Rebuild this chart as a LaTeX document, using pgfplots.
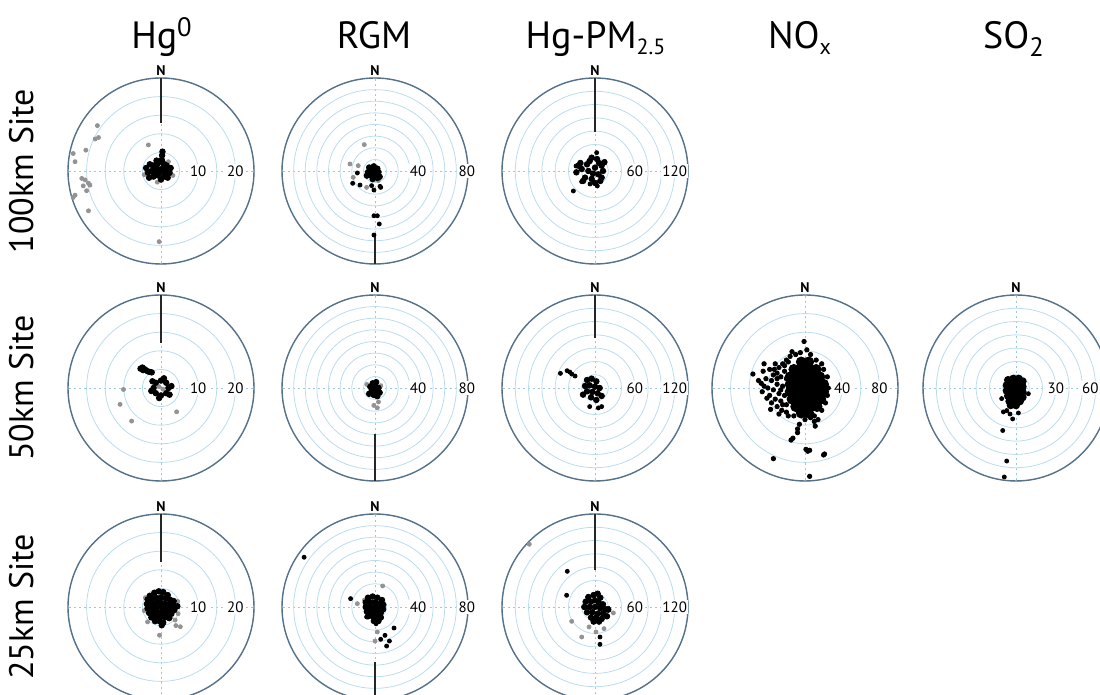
\documentclass[border=0pt]{standalone}
\usepackage{pgfplots}
\pgfplotsset{compat=1.18}
\usepgfplotslibrary{polar}
\usepackage{fontspec}
\setmainfont{PT Sans}
\definecolor{outer}{HTML}{56728A}
\definecolor{ring}{HTML}{BADDEE}
\definecolor{cross}{HTML}{9CC8DE}
\definecolor{dotgray}{HTML}{939393}
\pgfplotsset{
  rose/.style={
    scale only axis, width=93pt, height=93pt, anchor=center,
    ymin=0, xtick={0,90,180,270}, xticklabels={}, yticklabels={},
    xmajorgrids, ymajorgrids,
    x grid style={cross, dash pattern=on 1pt off 1.5pt, line width=0.4pt},
    y grid style={ring, line width=0.4pt},
    separate axis lines,
    x axis line style={outer, line width=0.7pt},
    y axis line style={draw=none},
    major tick length=0pt,
    clip=false,
  },
  blk/.style={only marks, mark=*, mark size=1pt, black, data cs=cart},
  gry/.style={only marks, mark=*, mark size=1pt, dotgray, data cs=cart},
  blob/.style={only marks, mark=*, mark size=1.4pt, black, data cs=cart},
  nline/.style={black!85, line width=0.75pt, data cs=cart},
}
\newcommand{\Nlab}[1]{\node[font=\fontsize{7}{8}\selectfont\bfseries, anchor=south, inner sep=1.2pt] at (axis cs:90,#1) {N};}
\newcommand{\Rlab}[2]{\node[fill=white, inner sep=0.6pt, font=\fontsize{7.5}{8}\selectfont] at (axis cs:0,#1) {#2};}
\begin{document}
\begin{tikzpicture}
\path[use as bounding box] (0,0) rectangle (550pt,347.5pt);
% titles
\begin{scope}[every node/.style={anchor=base, font=\fontsize{19}{22}\selectfont}]
\node at (81pt,323pt) {Hg\textsuperscript{0}};
\node at (187pt,323pt) {RGM};
\node at (298pt,323pt) {Hg-PM\textsubscript{\fontsize{11}{12}\selectfont 2.5}};
\node at (400pt,323pt) {NO\textsubscript{\fontsize{11}{12}\selectfont x}};
\node at (507pt,323pt) {SO\textsubscript{2}};
\end{scope}
\begin{scope}[every node/.style={rotate=90, anchor=center, font=\fontsize{17}{20}\selectfont}]
\node at (11pt,262pt) {100km Site};
\node at (11pt,153.5pt) {50km Site};
\node at (11pt,44pt) {25km Site};
\end{scope}

% ---------- Row 1: 100 km ----------
\begin{polaraxis}[rose, at={(80.5pt,262pt)}, ymax=25, ytick={5,10,...,25}]
\addplot[nline] coordinates {(0,25) (0,12.8)};
\addplot[gry] coordinates {(-17.1,12.2) (-17.7,8.6) (-16.8,9.0) (-20.2,5.6) (-23.6,4.7) (-23.1,2.5) (-21.3,-2.0) (-20.4,-2.4) (-19.5,-3.3) (-20.9,-4.0) (-19.1,-3.8) (-20.0,-5.3) (-23.1,-6.5) (-23.6,-7.1) (-19.5,-10.7) (-3.4,7.0) (-0.5,-19.0) (-4.5,-1.0) (3.2,-1.2) (-1.0,-3.0) (2.0,2.5)};
\addplot[blob] coordinates {(-0.5,0.3) (0.5,0.8) (-1.5,0.5) (1.5,0.2) (-2.5,0.0) (2.3,-0.5) (-3.5,-0.5) (-1,1.8) (0.5,2.2) (-2.2,1.5) (1.5,1.5) (-0.8,-1.2) (0.8,-1.5) (-2,-1.5) (1.8,-1.8) (-3.2,-1.8) (0,-2.3) (-4,0.8) (-3,1.8) (2.6,0.8) (0.2,3.0) (0.3,4.2) (0.4,5.2) (-1.2,2.8) (1.2,-0.6) (-0.3,-0.3) (-1.8,-0.4) (0.9,0.1)};
\Nlab{25}\Rlab{10}{10}\Rlab{20}{20}
\end{polaraxis}

\begin{polaraxis}[rose, at={(187.5pt,262pt)}, ymax=80, ytick={10,20,...,80}]
\addplot[nline] coordinates {(0,-80) (0,-54)};
\addplot[gry] coordinates {(-9.2,22.7) (-21.5,6.0) (-14.4,4.6) (-18.7,-5.5) (-7.2,-14.1) (2.9,-8.3)};
\addplot[blk] coordinates {(-15.2,-1.7) (-19.2,-10.6) (-12.9,-12.1) (-2.9,-12.6) (-0.9,-16.4) (4.3,-13.2) (4.9,-14.1) (-0.9,-38.5) (2.0,-38.5) (3.7,-45.6) (-0.9,-55.1)};
\addplot[blob] coordinates {(-2,0) (0,1) (-4,2) (2,2) (-6,-1) (1,-3) (-3,-4) (3,-1) (-5,3) (-1,4) (2,-6) (-2,-7) (-7,-4) (4,-5) (0,-1) (-4,-2) (-1,-4)};
\Nlab{80}\Rlab{37}{40}\Rlab{79}{80}
\end{polaraxis}

\begin{polaraxis}[rose, at={(297.5pt,262pt)}, ymax=140, ytick={20,40,...,140}]
\addplot[nline] coordinates {(0,140) (0,59)};
\addplot[blk] coordinates {(2.5,27.6) (-32.6,-30.1) (3.5,-22.6) (-20.1,-16.1) (-7.5,-19.6) (15.1,14.1) (-28.6,7.5)};
\addplot[blob] coordinates {(-10,0) (0,5) (-20,3) (5,-5) (-15,-10) (-5,-12) (10,8) (-25,8) (-8,15) (3,18) (12,0) (-18,-15) (0,-18) (8,-15) (-28,-2) (-12,10) (-3,-4) (6,12) (14,13) (-22,12) (-5,20) (10,-10)};
\Nlab{140}\Rlab{60}{60}\Rlab{120}{120}
\end{polaraxis}

% ---------- Row 2: 50 km ----------
\begin{polaraxis}[rose, at={(80.5pt,153.5pt)}, ymax=25, ytick={5,10,...,25}]
\addplot[nline] coordinates {(0,25) (0,12.2)};
\addplot[gry] coordinates {(-11,-4.4) (-7.9,-8.9) (4.2,-6.4) (-10.1,-0.4) (0.5,-0.3) (-0.6,0.4)};
\addplot[blob] coordinates {(2,0) (1.4,1.4) (0,2) (-1.4,1.4) (-2,0) (-1.4,-1.4) (0,-2) (1.4,-1.4) (2.8,0.5) (-2.6,-0.8) (0.8,2.6) (-0.5,-2.7) (2.3,-1.8) (-2.3,1.8) (-5.5,5.2) (-4.8,4.8) (-4.3,5.0) (-3.6,4.5) (-3,4.3) (-2.5,4.2) (-5.0,5.5)};
\Nlab{25}\Rlab{10}{10}\Rlab{20}{20}
\end{polaraxis}

\begin{polaraxis}[rose, at={(187.5pt,153.5pt)}, ymax=80, ytick={10,20,...,80}]
\addplot[nline] coordinates {(0,-80) (0,-40)};
\addplot[gry] coordinates {(3,-12) (-1,-15) (2,-17) (5,2) (-7,3)};
\addplot[blob] coordinates {(-2,4) (1,5) (-4,1) (0,1) (3,0) (-3,-3) (1,-3) (-1,-6) (2,-7) (-5,-5) (4,-4)};
\Nlab{80}\Rlab{37}{40}\Rlab{79}{80}
\end{polaraxis}

\begin{polaraxis}[rose, at={(297.5pt,153.5pt)}, ymax=140, ytick={20,40,...,140}]
\addplot[nline] coordinates {(0,140) (0,75)};
\addplot[blk] coordinates {(-52,22) (-42,26) (-38,24) (-35,21) (-30,18) (5,-30) (10,-28) (-8,-28)};
\addplot[blob] coordinates {(-12,12) (-5,14) (2,10) (-15,3) (-8,4) (0,2) (7,0) (-12,-5) (-4,-6) (4,-8) (10,-12) (-6,-14) (2,-18) (-18,-10)};
\Nlab{140}\Rlab{60}{60}\Rlab{120}{120}
\end{polaraxis}

\begin{polaraxis}[rose, at={(402.5pt,153.5pt)}, ymax=100, ytick={20,40,...,100}]
\addplot[only marks, mark=*, mark size=2.5pt, black, data cs=cart] coordinates {(-4,28) (4,28) (-12,20) (-4,20) (4,20) (12,20) (-16,12) (-8,12) (0,12) (8,12) (16,12) (-16,4) (-8,4) (0,4) (8,4) (16,4) (20,4) (-16,-4) (-8,-4) (0,-4) (8,-4) (16,-4) (20,-4) (-14,-12) (-6,-12) (2,-12) (10,-12) (17,-12) (-10,-20) (-2,-20) (6,-20) (13,-20) (-4,-27) (4,-27)};
\addplot[only marks, mark=*, mark size=1.1pt, black, data cs=cart] coordinates {(-20,30) (-24,26) (-28,22) (-22,18) (-30,16) (-26,12) (-34,14) (-20,10) (-38,20) (-44,26) (-36,8) (-30,4) (-24,2) (-42,10) (-47,5) (-56,15) (-40,0) (-34,-2) (-28,-6) (-22,-8) (-46,-4) (-38,-8) (-32,-12) (-26,-14) (-41,-11) (-20,-18) (-30,-20) (-37,-23) (-25,-24) (-28,-28) (-20,-26) (-18,28) (-16,34) (-10,36) (-14,39) (-5,38) (2,41) (-1,50) (6,36) (12,30) (18,26) (20,20) (24,12) (25,0) (24,-8) (22,-16) (18,-24) (10,-30) (14,-34) (10,-36) (11,-41) (-6,-39) (-8,-44) (-8,-48) (-15,-56) (-13,-54) (1,-66) (3,-68) (5,-67) (21,-71) (20,-72) (-34,-76) (5,-95) (-33,20) (-50,8) (-45,18) (-32,26) (-26,-2) (-36,-16) (-44,2) (-22,24) (-30,10) (-24,-18) (-18,-30) (-12,-30) (0,-34) (6,-32)};
\Nlab{100}\Rlab{40}{40}\Rlab{80}{80}
\end{polaraxis}

\begin{polaraxis}[rose, at={(508pt,153.5pt)}, ymax=70, ytick={10,20,...,70}]
\addplot[only marks, mark=*, mark size=1.8pt, black, data cs=cart] coordinates {(-6,6) (-2,7) (2,7) (5,5) (-7,2) (-3,3) (1,3) (5,1) (-7,-2) (-3,-1) (1,-1) (5,-3) (-6,-6) (-2,-5) (2,-5) (5,-7) (-5,-10) (-1,-9) (3,-10) (-4,-13) (0,-13)};
\addplot[blk] coordinates {(9.3,-4.3) (-10.8,-8) (-9.5,-18) (-7,-17) (-4.5,-19.6) (1.8,-18.8) (-2.5,-23.3) (-10,-32) (-7,-55) (-8.8,-67) (-6.5,6.5) (0,7.5)};
\Nlab{70}\Rlab{30}{30}\Rlab{56}{60}
\end{polaraxis}

% ---------- Row 3: 25 km ----------
\begin{polaraxis}[rose, at={(80.5pt,44pt)}, ymax=25, ytick={5,10,...,25}]
\addplot[nline] coordinates {(0,25) (0,12.1)};
\addplot[gry] coordinates {(4,-5) (5.2,-5.3) (-0.4,-7.6) (-3.6,-4) (2.7,-2.7) (4.5,1.5) (-4.5,-1) (3.8,-3.5) (-4.2,2.5) (4.6,-1.8)};
\addplot[blob] coordinates {(-3,3) (-1.8,3.8) (-0.6,4.2) (0.6,4) (1.8,3.2) (-3.6,2) (-2.4,2.2) (-1.2,2.4) (0,2.6) (1.2,2.4) (2.4,2) (3.4,1.6) (-3.8,0.8) (-2.6,1) (-1.4,1) (-0.2,1.2) (1,1) (2.2,0.8) (3.4,0.4) (4.4,0.2) (-3.6,-0.4) (-2.4,-0.2) (-1.2,-0.2) (0,0) (1.2,-0.2) (2.4,-0.4) (3.6,-0.8) (-3.2,-1.6) (-2,-1.4) (-0.8,-1.4) (0.4,-1.4) (1.6,-1.6) (2.8,-1.8) (-2.6,-2.8) (-1.4,-2.6) (-0.2,-2.6) (1,-2.8) (2.2,-3) (-1.6,-3.8) (-0.4,-3.8) (0.6,-4.2) (0.2,-4.9)};
\Nlab{25}\Rlab{10}{10}\Rlab{20}{20}
\end{polaraxis}

\begin{polaraxis}[rose, at={(187.5pt,44pt)}, ymax=80, ytick={10,20,...,80}]
\addplot[nline] coordinates {(0,-80) (0,-47)};
\addplot[gry] coordinates {(-15.2,2.9) (6.6,18.1) (0,-29.3) (2,-21.5) (-9,6) (8,2)};
\addplot[blk] coordinates {(-61,42.8) (-21,7.2) (-7.2,-8.6) (5.2,-9.5) (0.9,-14.4) (16.4,-18.1) (8.6,-24.4) (4.9,-27.8) (12.4,-29.3) (10,-33.6)};
\addplot[blob] coordinates {(-6,8) (-2,9) (2,8) (6,6) (-8,4) (-4,4) (0,4) (4,3) (7,2) (-8,0) (-4,0) (0,0) (4,-1) (7,-2) (-7,-4) (-3,-4) (1,-4) (5,-5) (-6,-8) (-2,-8) (2,-8) (5,-9) (-1,-12) (3,-12)};
\Nlab{80}\Rlab{37}{40}\Rlab{79}{80}
\end{polaraxis}

\begin{polaraxis}[rose, at={(297.5pt,44pt)}, ymax=140, ytick={20,40,...,140}]
\addplot[nline] coordinates {(0,140) (0,55)};
\addplot[nline] coordinates {(0,0) (22,0)};
\addplot[gry] coordinates {(-98.9,94.4) (-35.1,-21.6) (-20,-45.2) (-9,-30) (1.5,-37.6) (13.6,-32.6) (27.6,-9)};
\addplot[blk] coordinates {(-41.7,53.7) (-42.7,17.6) (7.5,-45.2) (7.5,-56.2)};
\addplot[blob] coordinates {(-10,15) (-2,18) (4,20) (8,14) (0,10) (-14,8) (-6,8) (6,6) (12,4) (-16,0) (-8,0) (0,0) (8,-2) (16,-4) (-12,-8) (-4,-8) (4,-10) (12,-10) (-6,-16) (2,-16) (10,-18) (18,-14) (-2,-22) (6,-22) (20,-4)};
\Nlab{140}\Rlab{60}{60}\Rlab{120}{120}
\end{polaraxis}
\end{tikzpicture}
\end{document}
